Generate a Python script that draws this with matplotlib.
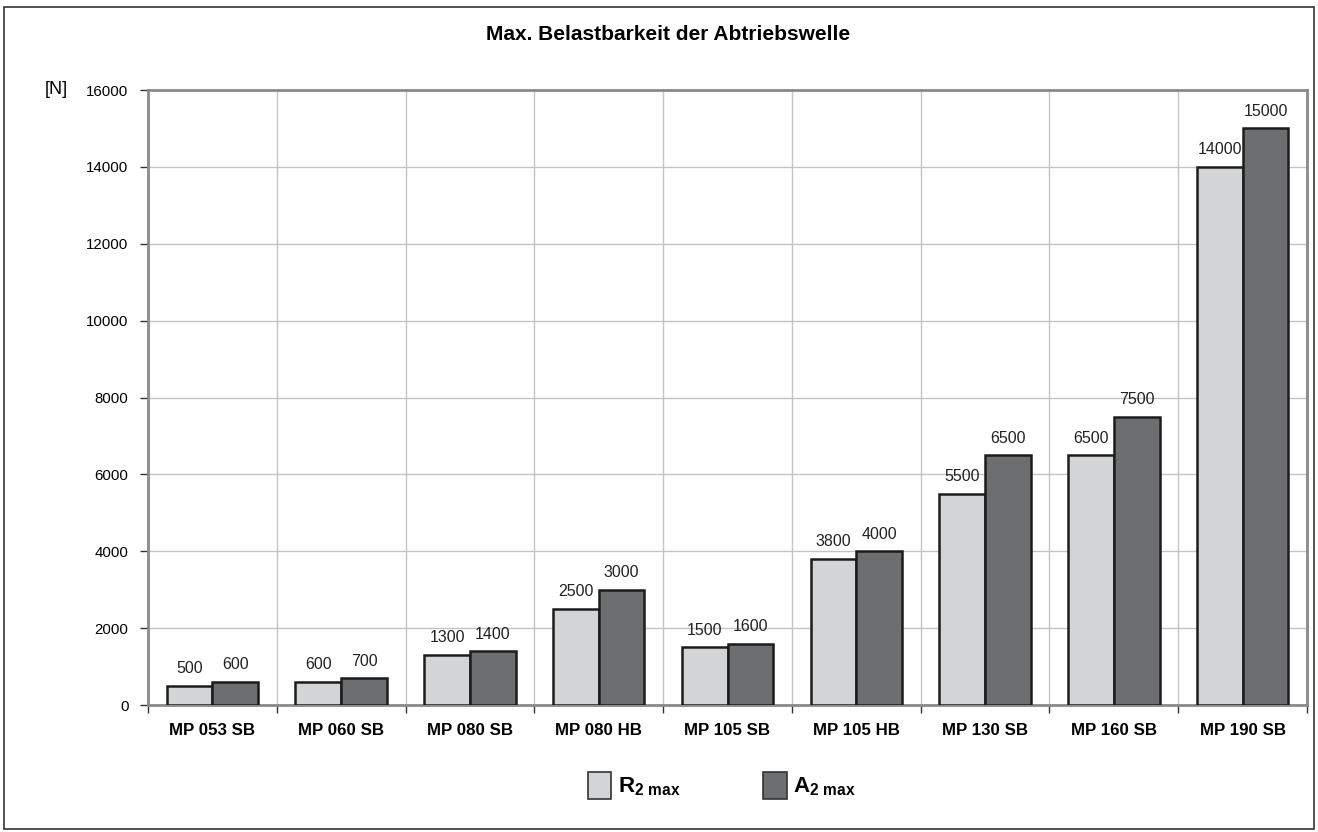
import numpy as np
import matplotlib
matplotlib.use("Agg")
import matplotlib.pyplot as plt
from matplotlib.patches import Patch, Rectangle

plt.rcParams["font.family"] = ["Liberation Sans", "DejaVu Sans"]

# data
categories = ["MP 053 SB", "MP 060 SB", "MP 080 SB", "MP 080 HB", "MP 105 SB",
              "MP 105 HB", "MP 130 SB", "MP 160 SB", "MP 190 SB"]
r2_max = [500, 600, 1300, 2500, 1500, 3800, 5500, 6500, 14000]
a2_max = [600, 700, 1400, 3000, 1600, 4000, 6500, 7500, 15000]
y_ticks = [0, 2000, 4000, 6000, 8000, 10000, 12000, 14000, 16000]

LIGHT = "#d3d4d6"
DARK = "#6d6e70"
EDGE = "#1c1c1c"
SPINE = "#8a8a8a"
GRID = "#c4c4c4"

fig = plt.figure(figsize=(13.18, 8.32), dpi=100)
ax = fig.add_axes([0.1123, 0.1526, 0.8794, 0.7392])

x = np.arange(len(categories))
w = 0.355
b1 = ax.bar(x - w / 2, r2_max, w, color=LIGHT, edgecolor=EDGE, linewidth=1.8, zorder=3)
b2 = ax.bar(x + w / 2, a2_max, w, color=DARK, edgecolor=EDGE, linewidth=1.8, zorder=3)

for rect, v in zip(list(b1) + list(b2), r2_max + a2_max):
    ax.text(rect.get_x() + rect.get_width() / 2, v + 250, str(v),
            ha="center", va="bottom", fontsize=11.5, color="#222222")

ax.set_xlim(-0.5, len(categories) - 0.5)
ax.set_ylim(0, 16000)
ax.set_yticks(y_ticks)
ax.set_yticklabels([str(t) for t in y_ticks], fontsize=10.8)

# category boundaries carry the gridlines and ticks
bounds = np.arange(-0.5, len(categories), 1.0)
ax.set_xticks(bounds)
ax.set_xticklabels([])
ax.set_xticks(x, minor=True)
ax.set_xticklabels(categories, minor=True, fontsize=12.2, fontweight="bold")
ax.tick_params(axis="x", which="minor", length=0, pad=13)
ax.tick_params(axis="x", which="major", length=6, color="#333333", width=1)
ax.tick_params(axis="y", length=6, color="#333333", width=1, pad=8)

ax.grid(True, which="major", color=GRID, linewidth=1, zorder=0)
for s in ax.spines.values():
    s.set_color(SPINE)
    s.set_linewidth(2)

fig.text(0.5065, 0.958, "Max. Belastbarkeit der Abtriebswelle",
         ha="center", va="center", fontsize=15, fontweight="bold")
fig.text(0.034, 0.892, "[N]", ha="left", va="center", fontsize=13)

handles = [Patch(facecolor=LIGHT, edgecolor="#333333", linewidth=1.2),
           Patch(facecolor=DARK, edgecolor="#333333", linewidth=1.2)]
labels = [r"R$_{\mathregular{2\ max}}$", r"A$_{\mathregular{2\ max}}$"]
fig.legend(handles, labels, loc="center", bbox_to_anchor=(0.548, 0.056), ncol=2,
           frameon=False, handlelength=1.05, handleheight=1.5,
           handletextpad=0.3, columnspacing=3.7,
           prop={"weight": "bold", "size": 16})

fig.patches.append(Rectangle((0.003, 0.004), 0.994, 0.987, transform=fig.transFigure,
                             fill=False, edgecolor="#333333", linewidth=1.2))

fig.savefig("out.png", dpi=100)
